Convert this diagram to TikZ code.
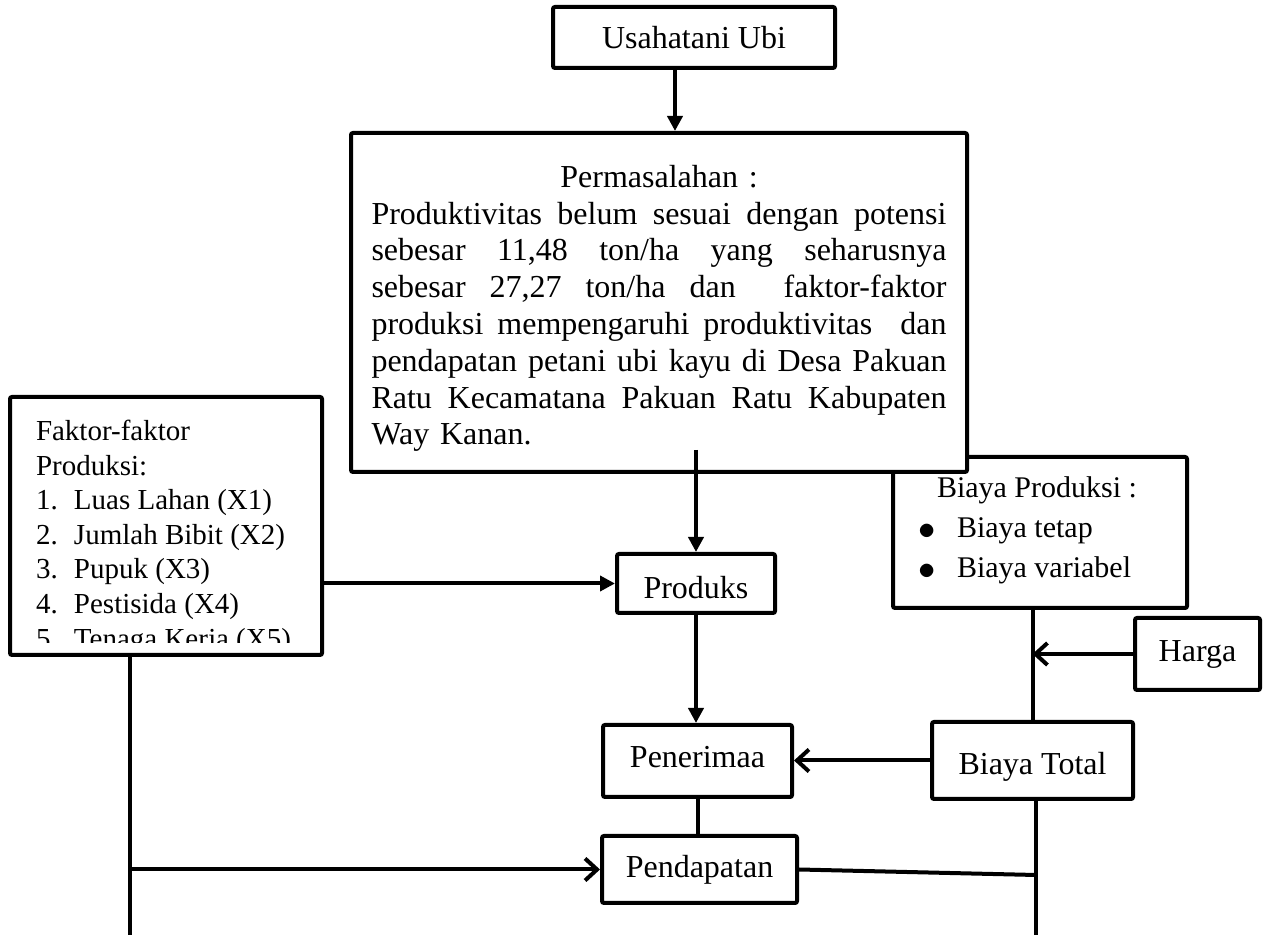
\documentclass[tikz,border=0pt]{standalone}
\usepackage{fontspec}
\setmainfont{Liberation Serif}
\usetikzlibrary{arrows.meta}
\newcommand{\jline}[1]{\leavevmode\hbox to 287.5pt{#1}}
\newcommand{\bul}{\makebox[19.5pt][l]{\raisebox{-1pt}{\fontsize{19}{19}\selectfont$\bullet$}}}

\begin{document}
\begin{tikzpicture}[x=0.5pt,y=-0.5pt,line width=2pt,
  kotak/.style={draw,fill=white,rounded corners=1pt,inner sep=0pt,font=\fontsize{16}{18.4}\selectfont},
  tri/.style={-{Triangle[length=7.5pt,width=7.5pt]}},
  barb/.style={-{Straight Barb[length=6pt,width=11pt]}}]
  \useasboundingbox (0,0) rectangle (1266,935);

  \node[kotak,minimum width=141pt,minimum height=30.5pt] (usaha) at (694,37.5) {Usahatani Ubi};

  \node[kotak,minimum width=147pt,minimum height=75.5pt] (biaya) at (1040,532.5) {};
  \node[anchor=north west,inner sep=0pt,align=left,font=\fontsize{15}{20}\selectfont] (biayatxt) at (916,475)
    {\hspace*{9.5pt}Biaya Produksi :\\
     \bul Biaya tetap\\
     \bul Biaya variabel};

  \node[kotak,minimum width=308pt,minimum height=169.5pt,text width=287.5pt,align=left] (masalah) at (659,302.5)
    {\rule{0pt}{17pt}\makebox[287.5pt]{Permasalahan :}\\
     \jline{Produktivitas\hfill belum\hfill sesuai\hfill dengan\hfill potensi}\\
     \jline{sebesar\hfill 11,48\hfill ton/ha\hfill yang\hfill seharusnya}\\
     \jline{sebesar\hfill 27,27\hfill ton/ha\hfill dan\hfill\hfill faktor-faktor}\\
     \jline{produksi\hfill mempengaruhi\hfill produktivitas\hfill\hfill dan}\\
     \jline{pendapatan\hfill petani\hfill ubi\hfill kayu\hfill di\hfill Desa\hfill Pakuan}\\
     \jline{Ratu\hfill Kecamatana\hfill Pakuan\hfill Ratu\hfill Kabupaten}\\
     Way Kanan.};

  \node[kotak,minimum width=156pt,minimum height=129pt] (faktor) at (166,526) {};
  \begin{scope}
    \clip (12,399) rectangle (320,643);
    \node[anchor=north west,inner sep=0pt,align=left,font=\fontsize{14.5}{17.3}\selectfont] (faktortxt) at (34,418)
      {Faktor-faktor\\
       Produksi:\\
       \makebox[19pt][l]{1.}Luas Lahan (X1)\\
       \makebox[19pt][l]{2.}Jumlah Bibit (X2)\\
       \makebox[19pt][l]{3.}Pupuk (X3)\\
       \makebox[19pt][l]{4.}Pestisida (X4)\\
       \makebox[19pt][l]{5.}Tenaga Kerja (X5)};
  \end{scope}

  \node[kotak,minimum width=79pt,minimum height=29.5pt] (produks) at (696,583.5) {\raisebox{-2pt}[\height][\depth]{Produks}};
  \node[kotak,minimum width=94.5pt,minimum height=36pt] (penerimaan) at (697.5,761) {\raisebox{2pt}[\height][\depth]{Penerimaa}};
  \node[kotak,minimum width=97.5pt,minimum height=33.5pt] (pendapatan) at (699.5,869.5) {Pendapatan};
  \node[kotak,minimum width=100.5pt,minimum height=38.5pt] (total) at (1032.5,760.5) {\raisebox{-3pt}[\height][\depth]{Biaya Total}};
  \node[kotak,minimum width=62.5pt,minimum height=36pt] (harga) at (1197.5,654) {Harga};

  \coordinate (kiri) at (130,935);
  \coordinate (kanan) at (1036,935);
  \coordinate (temu) at (1036,875);

  \draw[tri] ([xshift=-9.5pt]usaha.south) -- ([xshift=-9.5pt]usaha.south |- masalah.north);
  \draw[tri] ([yshift=12pt]masalah.south -| produks.north) -- (produks.north);
  \draw[tri] (faktor.east |- produks.west) -- (produks.west);
  \draw[tri] (produks.south) -- (produks.south |- penerimaan.north);
  \draw (penerimaan.south) -- (penerimaan.south |- pendapatan.north);
  \draw (faktor.south -| kiri) -- (kiri);
  \draw[barb] (kiri |- pendapatan.west) -- (pendapatan.west);
  \draw (biaya.south -| total.north) -- (total.north);
  \draw[barb] (harga.west) -- (harga.west -| total.north);
  \draw[barb] (total.west) -- (penerimaan.east |- total.west);
  \draw (kanan |- total.south) -- (kanan);
  \draw (pendapatan.east) -- (temu);
\end{tikzpicture}
\end{document}
